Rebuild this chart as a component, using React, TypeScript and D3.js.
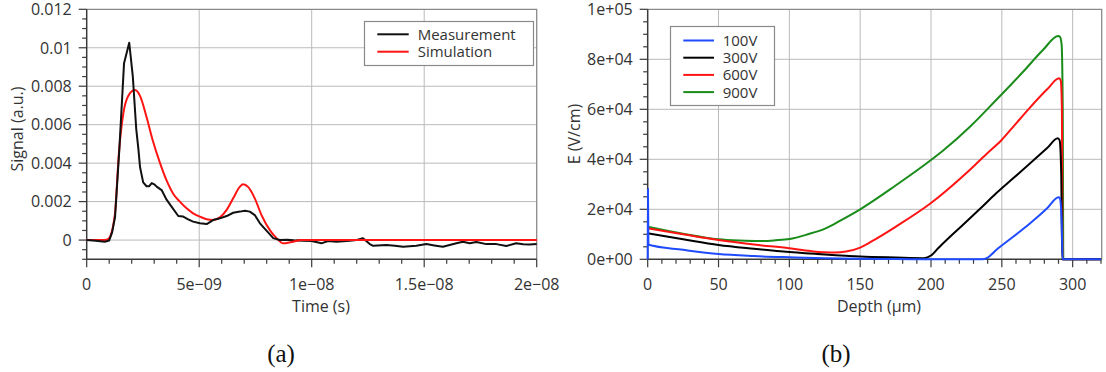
import { useEffect, useRef } from "react";
import * as d3 from "d3";

// ---- (a) transient signal; time in ns ----
const measTime = [0, 0.4, 0.8, 1.0, 1.13, 1.26, 1.45, 1.66, 1.89, 2.05, 2.2, 2.3, 2.37, 2.51, 2.66, 2.78, 2.89, 3.0, 3.11, 3.33, 3.55, 3.77, 4.07, 4.29, 4.51, 4.73, 5.03, 5.33, 5.62, 5.92, 6.22, 6.51, 6.81, 7.03, 7.25, 7.47, 7.7, 7.99, 8.29, 8.58, 8.9, 9.2, 9.62, 9.99, 10.2, 10.43, 10.73, 11.1, 11.69, 12.0, 12.28, 12.58, 12.73, 13.32, 13.7, 14.06, 14.65, 15.1, 15.45, 15.83, 16.43, 16.72, 17.02, 17.32, 17.76, 18.21, 18.65, 19.09, 19.4, 19.68, 20];
const measSignal = [0, -0.00003, -0.00009, -0.00002, 0.0004, 0.0012, 0.0047, 0.0092, 0.01026, 0.0085, 0.0058, 0.0047, 0.0038, 0.003, 0.0028, 0.0028, 0.00296, 0.0029, 0.00278, 0.0026, 0.0021, 0.00174, 0.00125, 0.00122, 0.00108, 0.00096, 0.00087, 0.00083, 0.00104, 0.00113, 0.00125, 0.00142, 0.00148, 0.00153, 0.00148, 0.0013, 0.00087, 0.00049, 0.0001, 0.0, 0.00002, -0.00001, -0.00003, -0.00005, -0.0001, -0.00017, -0.00005, -0.00009, -0.00003, 0.0, 0.0001, -0.00021, -0.0003, -0.00026, -0.0003, -0.00035, -0.0003, -0.00021, -0.00028, -0.00035, -0.00017, -0.00009, -0.00017, -0.0001, -0.00021, -0.00021, -0.00031, -0.00017, -0.00022, -0.00023, -0.00021];

const simTime = [0, 0.8, 0.95, 1.05, 1.15, 1.26, 1.43, 1.63, 1.85, 2.14, 2.37, 2.66, 2.93, 3.26, 3.55, 3.85, 4.14, 4.44, 4.73, 5.03, 5.33, 5.62, 5.92, 6.22, 6.51, 6.81, 6.95, 7.18, 7.47, 7.77, 8.14, 8.44, 8.73, 9.1, 9.5, 20];
const simSignal = [0, 0, 0.00005, 0.0002, 0.0006, 0.0014, 0.0045, 0.0066, 0.0075, 0.0078, 0.0075, 0.0064, 0.0052, 0.004, 0.0031, 0.0024, 0.002, 0.00165, 0.00139, 0.00122, 0.00108, 0.00104, 0.00118, 0.00157, 0.00217, 0.00278, 0.0029, 0.00275, 0.00217, 0.0013, 0.00052, 0.0001, -0.00017, -0.0001, 0, 0];

const timeTicks = [0, 5e-9, 1e-8, 1.5e-8, 2e-8];
const timeTickLabels = ["0", "5e\u221209", "1e\u221208", "1.5e\u221208", "2e\u221208"];
const signalTicks = [0, 0.002, 0.004, 0.006, 0.008, 0.01, 0.012];
const signalTickLabels = ["0", "0.002", "0.004", "0.006", "0.008", "0.01", "0.012"];

// ---- (b) electric field vs depth ----
const depth100 = [0, 0.2, 0.5, 25, 50, 75, 100, 125, 150, 175, 200, 236, 240, 246, 258, 270, 282, 290, 291, 292.3, 292.9, 320];
const field100 = [0, 28000, 5800, 3800, 2100, 1300, 800, 400, 200, 80, 0, 0, 700, 3700, 9000, 14400, 20400, 24800, 24400, 14000, 0, 0];

const depth300 = [0, 25, 50, 75, 100, 125, 150, 175, 195, 200, 205, 211, 223, 235, 246, 258, 270, 282, 289.5, 290.8, 291.9, 292.6, 320];
const field300 = [10400, 8000, 5700, 4200, 2900, 1900, 1100, 700, 450, 1500, 4400, 7700, 14000, 20400, 26400, 32400, 38400, 44500, 48400, 47600, 35000, 0, 0];

const depth600 = [0, 25, 50, 75, 100, 115, 125, 132, 140, 150, 160, 175, 200, 225, 239, 250, 258, 270, 282, 290.5, 291.6, 292.4, 292.8, 320];
const field600 = [12400, 10000, 7700, 5900, 4400, 3300, 2800, 2700, 3100, 4700, 7800, 13000, 22500, 34500, 42000, 47800, 53000, 60800, 68000, 72400, 71500, 60000, 0, 0];

const depth900 = [0, 25, 50, 65, 79, 90, 100, 113, 125.6, 136, 150, 175, 200, 209, 227.5, 246, 265, 279, 289.8, 291, 292.2, 293, 293.4, 320];
const field900 = [13000, 10200, 8000, 7500, 7300, 7600, 8100, 10000, 12400, 15500, 20000, 29500, 39700, 43700, 53000, 63700, 75000, 83700, 89300, 89000, 86000, 60000, 0, 0];

const voltageLabels = ["100V", "300V", "600V", "900V"];
const voltageColors = ["#1f4bff", "#000000", "#ff1414", "#1a8c1a"];

const depthTicks = [0, 50, 100, 150, 200, 250, 300];
const fieldTicks = [0, 20000, 40000, 60000, 80000, 100000];
const fieldTickLabels = ["0e+00", "2e+04", "4e+04", "6e+04", "8e+04", "1e+05"];

const FONT = "'Open Sans', 'Noto Sans', sans-serif";
const TEXT = "#333";

type Panel = {
  x: d3.ScaleLinear<number, number>;
  y: d3.ScaleLinear<number, number>;
  xMajor: number[];
  xLabels: string[];
  xMinor: number[];
  yMajor: number[];
  yLabels: string[];
  yMinor: number[];
  xTitle: string;
  xTitlePos: number;
  yTitle: string;
  yTitlePos: [number, number];
};

function drawPanel(svg: d3.Selection<SVGSVGElement, unknown, null, undefined>, p: Panel) {
  const [x0, x1] = p.x.range();
  const [yb, yt] = p.y.range();
  const g = svg.append("g");

  // grid
  g.selectAll(".vg")
    .data(p.xMajor.filter((v) => p.x(v) > x0 + 1 && p.x(v) < x1 - 1))
    .join("line")
    .attr("x1", (d) => p.x(d))
    .attr("x2", (d) => p.x(d))
    .attr("y1", yb)
    .attr("y2", yt)
    .attr("stroke", "#bababa")
    .attr("stroke-width", 1);
  g.selectAll(".hg")
    .data(p.yMajor.filter((v) => p.y(v) < yb - 1 && p.y(v) > yt + 1))
    .join("line")
    .attr("x1", x0)
    .attr("x2", x1)
    .attr("y1", (d) => p.y(d))
    .attr("y2", (d) => p.y(d))
    .attr("stroke", "#bababa")
    .attr("stroke-width", 1);

  // frame top/right
  g.append("path")
    .attr("d", `M${x0},${yt}H${x1}V${yb}`)
    .attr("fill", "none")
    .attr("stroke", "#8a8a8a")
    .attr("stroke-width", 1.3);

  // axes
  const axisColor = "#3a3a3a";
  g.append("line").attr("x1", x0).attr("x2", x0).attr("y1", yt).attr("y2", yb)
    .attr("stroke", axisColor).attr("stroke-width", 1.5);
  g.append("line").attr("x1", x0).attr("x2", x1).attr("y1", yb).attr("y2", yb)
    .attr("stroke", axisColor).attr("stroke-width", 1.5);

  g.selectAll(".xmin")
    .data(p.xMinor)
    .join("line")
    .attr("x1", (d) => p.x(d))
    .attr("x2", (d) => p.x(d))
    .attr("y1", yb)
    .attr("y2", (d) => yb + (p.xMajor.includes(d) ? 8 : 4.5))
    .attr("stroke", axisColor)
    .attr("stroke-width", 1.2);
  g.selectAll(".ymin")
    .data(p.yMinor)
    .join("line")
    .attr("y1", (d) => p.y(d))
    .attr("y2", (d) => p.y(d))
    .attr("x1", x0)
    .attr("x2", (d) => x0 - (p.yMajor.includes(d) ? 8 : 4.5))
    .attr("stroke", axisColor)
    .attr("stroke-width", 1.2);

  g.selectAll(".xl")
    .data(p.xMajor)
    .join("text")
    .attr("x", (d) => p.x(d))
    .attr("y", yb + 31)
    .attr("text-anchor", "middle")
    .attr("font-family", FONT)
    .attr("font-size", 16)
    .attr("fill", TEXT)
    .text((d, i) => p.xLabels[i]);
  g.selectAll(".yl")
    .data(p.yMajor)
    .join("text")
    .attr("x", x0 - 15)
    .attr("y", (d) => p.y(d))
    .attr("dy", "0.36em")
    .attr("text-anchor", "end")
    .attr("font-family", FONT)
    .attr("font-size", 16)
    .attr("fill", TEXT)
    .text((d, i) => p.yLabels[i]);

  g.append("text")
    .attr("x", p.xTitlePos)
    .attr("y", yb + 53)
    .attr("text-anchor", "middle")
    .attr("font-family", FONT)
    .attr("font-size", 16)
    .attr("fill", TEXT)
    .text(p.xTitle);
  g.append("text")
    .attr("transform", `translate(${p.yTitlePos[0]},${p.yTitlePos[1]}) rotate(-90)`)
    .attr("dy", "0.36em")
    .attr("text-anchor", "middle")
    .attr("font-family", FONT)
    .attr("font-size", 16)
    .attr("fill", TEXT)
    .text(p.yTitle);
  return g;
}

function drawLegend(
  g: d3.Selection<SVGGElement, unknown, null, undefined>,
  box: [number, number, number, number],
  labels: string[],
  colors: string[],
  rowY: number,
  rowStep: number,
  lineX: [number, number],
  textX: number
) {
  g.append("rect")
    .attr("x", box[0])
    .attr("y", box[1])
    .attr("width", box[2])
    .attr("height", box[3])
    .attr("fill", "#fff")
    .attr("stroke", "#8a8a8a")
    .attr("stroke-width", 1.2);
  const rows = g.selectAll(".lg").data(labels).join("g")
    .attr("transform", (d, i) => `translate(0,${rowY + i * rowStep})`);
  rows.append("line")
    .attr("x1", lineX[0])
    .attr("x2", lineX[1])
    .attr("stroke", (d, i) => colors[i])
    .attr("stroke-width", 2);
  rows.append("text")
    .attr("x", textX)
    .attr("dy", "0.36em")
    .attr("font-family", FONT)
    .attr("font-size", 15)
    .attr("fill", TEXT)
    .text((d) => d);
}

export default function App() {
  const svgRef = useRef<SVGSVGElement>(null);

  useEffect(() => {
    if (!svgRef.current) return;
    const svg = d3.select(svgRef.current);
    svg.selectAll("*").remove();

    // ---------- (a) ----------
    const xA = d3.scaleLinear().domain([0, 2e-8]).range([86.7, 536.7]);
    const yA = d3.scaleLinear().domain([-0.001, 0.012]).range([259.3, 9.3]);
    const gA = drawPanel(svg, {
      x: xA,
      y: yA,
      xMajor: timeTicks,
      xLabels: timeTickLabels,
      xMinor: d3.range(0, 21).map((i) => (i % 5 === 0 ? timeTicks[i / 5] : i * 1e-9)),
      yMajor: signalTicks,
      yLabels: signalTickLabels,
      yMinor: d3.range(-2, 25).map((i) => (i >= 0 && i % 4 === 0 ? signalTicks[i / 4] : i * 0.0005)),
      xTitle: "Time (s)",
      xTitlePos: 321,
      yTitle: "Signal (a.u.)",
      yTitlePos: [17, 129],
    });

    const lineA = (ts: number[], vs: number[], curve: d3.CurveFactory) =>
      d3.line<number>()
        .x((d, i) => xA(ts[i] * 1e-9))
        .y((d) => yA(d))
        .curve(curve)(vs);

    gA.append("path")
      .attr("d", lineA(simTime, simSignal, d3.curveMonotoneX))
      .attr("fill", "none")
      .attr("stroke", "#ff1414")
      .attr("stroke-width", 2);
    gA.append("path")
      .attr("d", lineA(measTime, measSignal, d3.curveLinear))
      .attr("fill", "none")
      .attr("stroke", "#111")
      .attr("stroke-width", 2)
      .attr("stroke-linejoin", "round");
    // simulation is drawn on top in the tail
    gA.append("path")
      .attr("d", lineA(simTime.slice(-3), simSignal.slice(-3), d3.curveLinear))
      .attr("fill", "none")
      .attr("stroke", "#ff1414")
      .attr("stroke-width", 2);

    drawLegend(gA, [364.5, 21.5, 169, 44], ["Measurement", "Simulation"], ["#111", "#ff1414"],
      34.3, 17.4, [377.3, 408.7], 417.7);

    // ---------- (b) ----------
    const xB = d3.scaleLinear().domain([0, 320.5]).range([647.7, 1101.7]);
    const yB = d3.scaleLinear().domain([0, 100000]).range([259.3, 9.3]);
    const gB = drawPanel(svg, {
      x: xB,
      y: yB,
      xMajor: depthTicks,
      xLabels: depthTicks.map(String),
      xMinor: d3.range(0, 33).map((i) => i * 10),
      yMajor: fieldTicks,
      yLabels: fieldTickLabels,
      yMinor: d3.range(0, 21).map((i) => i * 5000),
      xTitle: "Depth (\u03bcm)",
      xTitlePos: 879,
      yTitle: "E (V/cm)",
      yTitlePos: [574, 134],
    });

    const series = [
      [depth900, field900],
      [depth600, field600],
      [depth300, field300],
      [depth100, field100],
    ];
    const seriesColors = [voltageColors[3], voltageColors[2], voltageColors[1], voltageColors[0]];
    series.forEach(([ds, es], k) => {
      gB.append("path")
        .attr("d", d3.line<number>()
          .x((d, i) => xB(ds[i]))
          .y((d) => yB(d))
          .curve(d3.curveMonotoneX)(es))
        .attr("fill", "none")
        .attr("stroke", seriesColors[k])
        .attr("stroke-width", 2);
    });

    drawLegend(gB, [670.5, 26.5, 104, 79], voltageLabels, voltageColors, 40.5, 17.2, [683.3, 714], 722.7);

    // captions
    svg.selectAll(".cap")
      .data([["(a)", 281], ["(b)", 836]])
      .join("text")
      .attr("x", (d) => d[1] as number)
      .attr("y", 362)
      .attr("text-anchor", "middle")
      .attr("font-family", "'Liberation Serif', 'DejaVu Serif', serif")
      .attr("font-size", 25)
      .attr("fill", "#111")
      .text((d) => d[0] as string);
  }, []);

  return (
    <svg
      ref={svgRef}
      width={1106}
      height={372}
      style={{ position: "absolute", left: 0, top: 0, background: "#fff" }}
    />
  );
}
